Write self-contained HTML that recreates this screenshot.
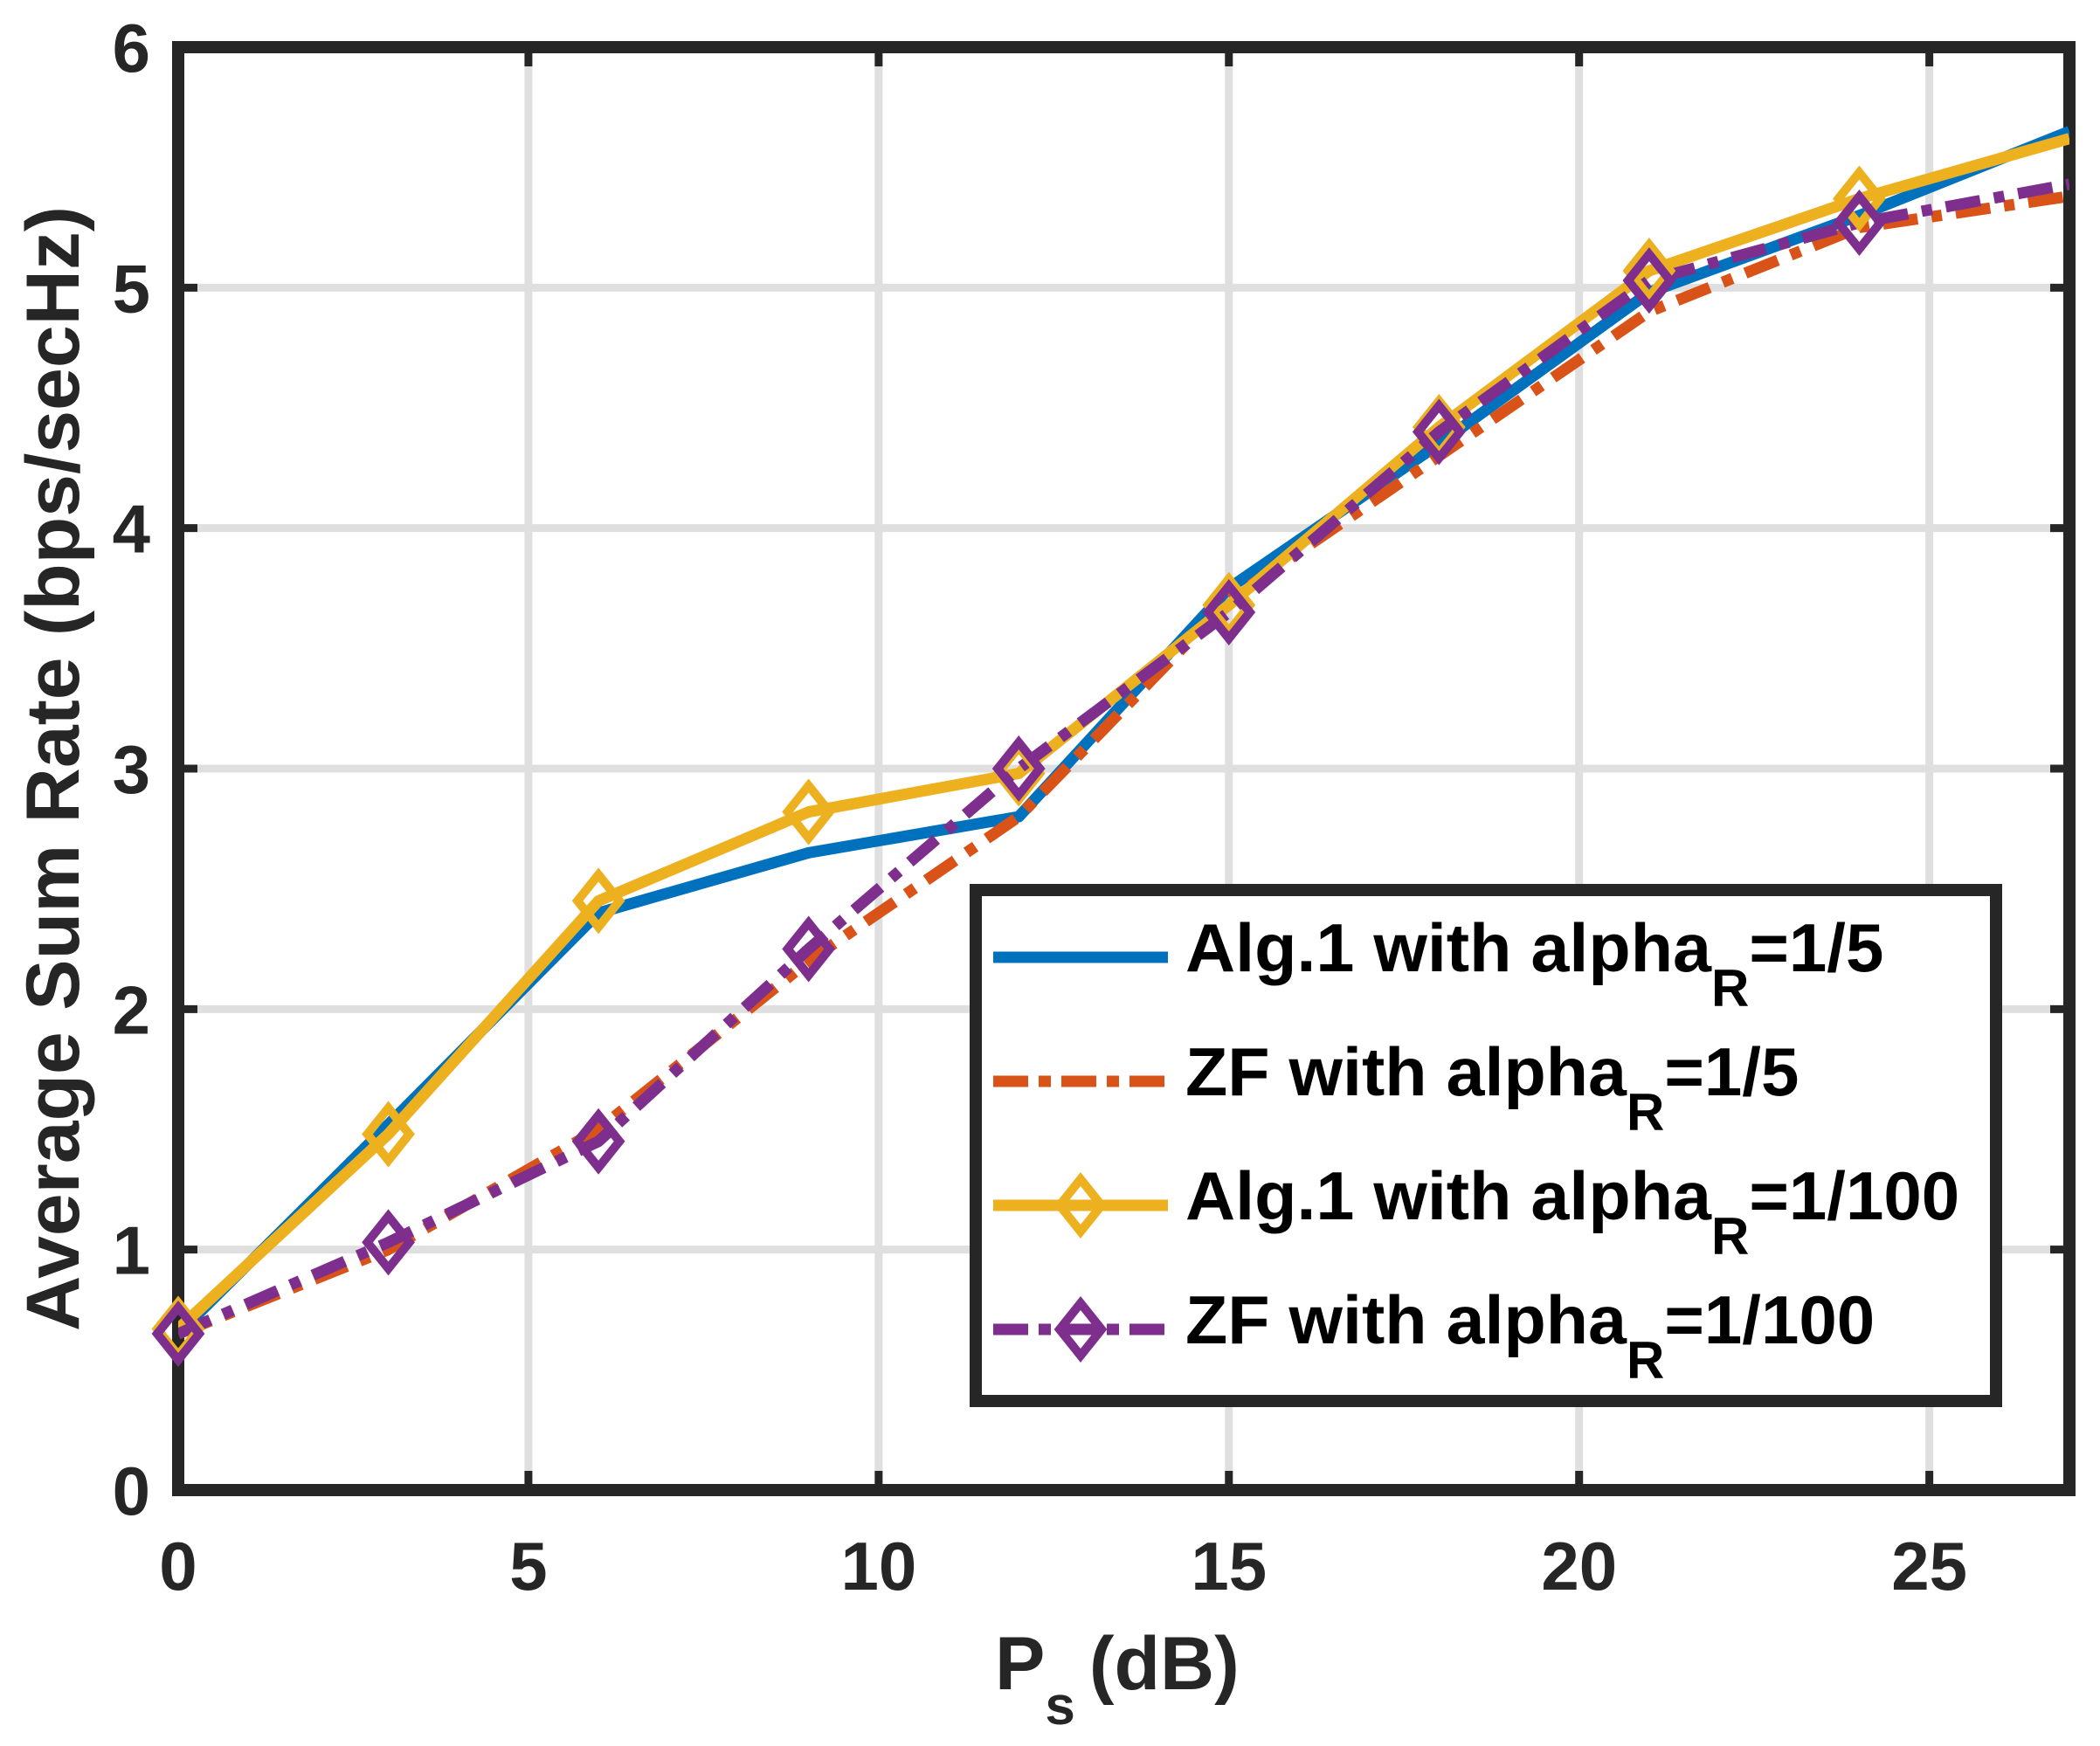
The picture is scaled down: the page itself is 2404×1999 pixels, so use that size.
<!DOCTYPE html>
<html><head><meta charset="utf-8"><style>
html,body{margin:0;padding:0;background:#fff;}
svg{display:block;font-family:"Liberation Sans",Arial,sans-serif;font-weight:bold;}
</style></head><body>
<svg id="chart" width="2404" height="1999" viewBox="0 0 2404 1999" xmlns="http://www.w3.org/2000/svg">
<defs><clipPath id="plotclip"><rect x="204" y="54" width="2165" height="1652"/></clipPath></defs>
<g id="grid"></g>
<g id="frame"></g>
<g id="series" clip-path="url(#plotclip)"></g>
<g id="markers"></g>
<g id="ticks"></g>
<text x="90" y="880" transform="rotate(-90 90 880)" text-anchor="middle" font-size="86" fill="#262626" textLength="1288" lengthAdjust="spacingAndGlyphs">Average Sum Rate (bps/secHz)</text>
<text x="1139" y="1934" font-size="86" fill="#262626">P<tspan font-size="62" dy="40">s</tspan><tspan dy="-40" dx="16">(dB)</tspan></text>
<g id="legend"></g>
</svg>
<script>
const xValues = [0,3,6,9,12,15,18,21,24,27];
const alg1R5 = [0.65,1.52,2.4,2.65,2.8,3.75,4.35,4.98,5.3,5.65];
const zfR5 = [0.65,1.0,1.5,2.2,2.8,3.7,4.3,4.9,5.25,5.38];
const alg1R100 = [0.67,1.48,2.45,2.82,2.98,3.68,4.42,5.07,5.37,5.62];
const zfR100 = [0.65,1.03,1.45,2.25,3.0,3.65,4.4,5.03,5.27,5.43];
const xTicks = [0,5,10,15,20,25];
const yTicks = [0,1,2,3,4,5,6];
const legendLabels = ["Alg.1 with alpha","ZF with alpha","Alg.1 with alpha","ZF with alpha"];
const legendValues = ["=1/5","=1/5","=1/100","=1/100"];

const NS="http://www.w3.org/2000/svg";
const L=204,R=2369,T=54,B=1706,XMAX=27,YMAX=6;
function sx(v){return L+(R-L)*v/XMAX;}
function sy(v){return B-(B-T)*v/YMAX;}
function mk(tag,attrs,parent){const e=document.createElementNS(NS,tag);for(const k in attrs)e.setAttribute(k,attrs[k]);parent.appendChild(e);return e;}
const grid=document.getElementById('grid'),frame=document.getElementById('frame'),ticks=document.getElementById('ticks'),series=document.getElementById('series'),markers=document.getElementById('markers'),legend=document.getElementById('legend');

xTicks.forEach(t=>{
  const g=mk('line',{x1:sx(t),x2:sx(t),y1:T,y2:B,stroke:'#dfdfdf','stroke-width':9},grid);
  
  
  const tk=mk('text',{x:sx(t),y:1820,'text-anchor':'middle','font-size':78,fill:'#262626'},ticks);
  tk.textContent=t;
  
  
  [[B,B-22],[T,T+22]].forEach(p=>{const m=mk('line',{x1:sx(t),x2:sx(t),y1:p[0],y2:p[1],stroke:'#262626','stroke-width':9},frame);
  
  });
});
yTicks.forEach(t=>{
  const g=mk('line',{x1:L,x2:R,y1:sy(t),y2:sy(t),stroke:'#dfdfdf','stroke-width':9},grid);
  
  
  const tk=mk('text',{x:172,y:sy(t)+28,'text-anchor':'end','font-size':78,fill:'#262626'},ticks);
  tk.textContent=t;
  
  
  [[L,L+22],[R,R-22]].forEach(p=>{const m=mk('line',{x1:p[0],x2:p[1],y1:sy(t),y2:sy(t),stroke:'#262626','stroke-width':9},frame);
  
  });
});
const fr=mk('rect',{x:L,y:T,width:R-L,height:B-T,fill:'none',stroke:'#262626','stroke-width':14},frame);



const defs=[
 {d:alg1R5,c:'#0072bd',dash:'',marker:false,name:'alg1-alpha-1-5'},
 {d:zfR5,c:'#d95319',dash:'40 16 12 16',marker:false,name:'zf-alpha-1-5'},
 {d:alg1R100,c:'#edb120',dash:'',marker:true,name:'alg1-alpha-1-100'},
 {d:zfR100,c:'#7e2f8e',dash:'40 16 12 16',marker:true,name:'zf-alpha-1-100'}
];
function diamond(x,y,c,parent){
  const p=mk('polygon',{points:`${x},${y-30} ${x+24},${y} ${x},${y+30} ${x-24},${y}`,fill:'none',stroke:c,'stroke-width':10},parent);
  
  
}
defs.forEach(s=>{
  const pts=s.d.map((v,i)=>sx(xValues[i])+','+sy(v)).join(' ');
  const pl=mk('polyline',{points:pts,fill:'none',stroke:s.c,'stroke-width':13,'stroke-dasharray':s.dash,'stroke-linejoin':'round'},series);
  
  
  if(s.marker) s.d.forEach((v,i)=>{ if(xValues[i]<XMAX) diamond(sx(xValues[i]),sy(v),s.c,markers); });
});

const lb=mk('rect',{x:1117,y:1019,width:1168,height:585,fill:'#fff',stroke:'#262626','stroke-width':14},legend);


const rows=[1096,1238,1380,1522];
defs.forEach((s,i)=>{
  const y=rows[i];
  const ln=mk('line',{x1:1137,x2:1337,y1:y,y2:y,stroke:s.c,'stroke-width':13,'stroke-dasharray':s.dash?'40 12 14 12':''},legend);
  
  
  if(s.marker) diamond(1237,y,s.c,legend);
  const tx=mk('text',{x:1357,y:y+16,'font-size':78,fill:'#000'},legend);
  
  
  const w = legendLabels[i].startsWith('Alg')?602:505;
  const a=mk('tspan',{textLength:w,lengthAdjust:'spacingAndGlyphs'},tx);a.textContent=legendLabels[i];
  const b=mk('tspan',{'font-size':60,dy:40},tx);b.textContent='R';
  const c=mk('tspan',{dy:-40},tx);c.textContent=legendValues[i];
});
</script>
</body></html>
